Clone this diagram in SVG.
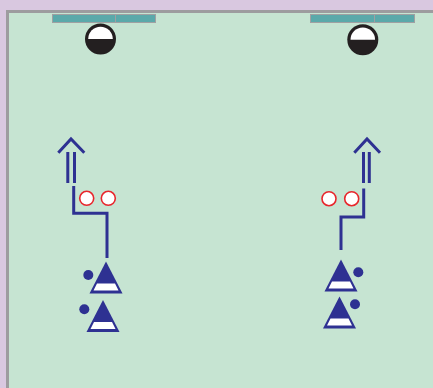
<svg xmlns="http://www.w3.org/2000/svg" width="433" height="388" viewBox="0 0 433 388">
<style>
.blue{stroke:#2E3192;stroke-width:3;fill:none}
.goal{fill:#5BA9AA;stroke:#A0A0A2;stroke-width:1}
.ball{fill:#fff;stroke:#E8262C;stroke-width:1.6}
.tri{fill:#2E3192}
.dot{fill:#2E3192}
</style>
<defs>
<g id="cone"><polygon class="tri" points="0,0 16.5,32 -16.5,32"/><polygon fill="#fff" points="-9,22 9,22 12.5,29 -12.5,29"/></g>
<g id="keeper"><circle r="15.5" fill="#231F20"/><path d="M-12.3,0 A12.3,12.3 0 0 1 12.3,0 Z" fill="#fff"/></g>
</defs>
<rect width="433" height="388" fill="#D9C8E0"/>
<rect x="7.5" y="11.5" width="440" height="390" fill="#C6E4D2" stroke="#9D9C9F" stroke-width="3"/>
<g id="goal-left"><rect class="goal" x="52.5" y="14.5" width="63" height="8"/><rect class="goal" x="115.5" y="14.5" width="40" height="8"/></g>
<g id="goal-right"><rect class="goal" x="310.5" y="14.5" width="64" height="8"/><rect class="goal" x="374.5" y="14.5" width="40" height="8"/></g>
<g id="keeper-left"><use href="#keeper" x="100.5" y="39"/></g>
<g id="keeper-right"><use href="#keeper" x="362.8" y="39.7"/></g>
<g id="connectors">
<path class="blue" d="M58.3,152.7 L71,139 L84.3,152.7"/>
<path class="blue" d="M67.8,152 V183 M74.5,152 V183"/>
<path class="blue" d="M73.7,186 V213.3 H107 V258"/>
<path class="blue" d="M354.3,152.7 L367,139 L380,152.7"/>
<path class="blue" d="M363.5,152 V183 M369.3,152 V183"/>
<path class="blue" d="M363.7,188.5 V217 H341 V250"/>
</g>
<g id="balls-left"><circle class="ball" cx="86.7" cy="198.3" r="7"/><circle class="ball" cx="108.3" cy="198.3" r="7"/></g>
<g id="balls-right"><circle class="ball" cx="329" cy="198.7" r="7"/><circle class="ball" cx="351.7" cy="198.7" r="7"/></g>
<g id="player-left-1"><use href="#cone" x="106" y="261.5"/><circle class="dot" cx="88.3" cy="275" r="5"/></g>
<g id="player-left-2"><use href="#cone" x="103" y="300"/><circle class="dot" cx="84.3" cy="309.3" r="5"/></g>
<g id="player-right-1"><use href="#cone" x="341" y="259.5"/><circle class="dot" cx="358.3" cy="272.3" r="5"/></g>
<g id="player-right-2"><use href="#cone" x="339.5" y="296.5"/><circle class="dot" cx="355" cy="304.3" r="5"/></g>
</svg>
